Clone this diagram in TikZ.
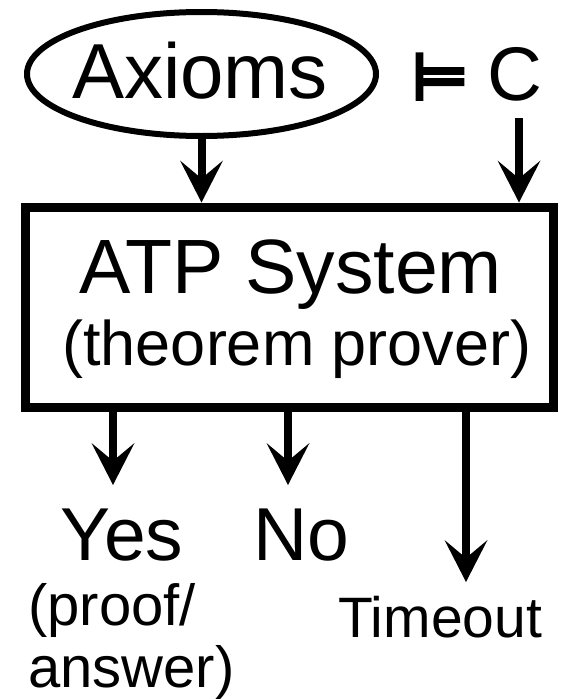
\documentclass[tikz,border=0pt]{standalone}
\usepackage{fontspec}
\setmainfont{Liberation Sans}
\newfontfamily\djv{DejaVu Sans}[FakeBold=6]
\usetikzlibrary{shapes.geometric,arrows.meta}
\tikzset{
  arr/.style={line width=8pt,-{Stealth[length=42pt,width=43pt,inset=18pt,line width=0pt]}},
  txt/.style={anchor=base,inner sep=0pt,text=black},
}
\newcommand{\fs}[1]{\fontsize{#1}{#1}\selectfont}
\begin{document}
\begin{tikzpicture}[x=1pt,y=-1pt]
\useasboundingbox (0,0) rectangle (564,699);
% ellipse with Axioms
\node[ellipse,draw,line width=6pt,minimum width=349pt,minimum height=124pt,inner sep=0pt] (ax) at (201.5,74) {};
\node[txt,font=\fs{78}] (axt) at (200,98) {Axioms};
% models C
\node[txt,font=\djv\fs{64}] (mod) at (440,99) {⊨};
\node[txt,font=\fs{76}] (c) at (515,100) {C};
% box
\node[draw,line width=9pt,minimum width=528pt,minimum height=200pt,inner sep=0pt] (atp) at (289,307) {};
\node[txt,font=\fs{77}] (t1) at (291,293) {ATP System};
\node[txt,font=\fs{63}] (t2) at (297,365) {(theorem prover)};
% top arrows
\draw[arr] (ax.south) -- (ax.south |- atp.north);
\coordinate (ctop) at (519,118);
\draw[arr] (ctop) -- (ctop |- atp.north);
% bottom arrows
\coordinate (ytip) at (113,485);
\coordinate (ntip) at (288,485);
\coordinate (ttip) at (466,582);
\draw[arr] (ytip |- atp.south) -- (ytip);
\draw[arr] (ntip |- atp.south) -- (ntip);
\draw[arr] (ttip |- atp.south) -- (ttip);
% outcomes
\node[txt,font=\fs{75}] (yes) at (122,560) {Yes};
\node[txt,font=\fs{75}] (no) at (301,560) {No};
\node[txt,font=\fs{58},anchor=base west] (pr) at (28,625) {(proof/};
\node[txt,font=\fs{58},anchor=base west] (an) at (28,687) {answer)};
\node[txt,font=\fs{57},anchor=base west] (to) at (338,637) {Timeout};
\end{tikzpicture}
\end{document}
